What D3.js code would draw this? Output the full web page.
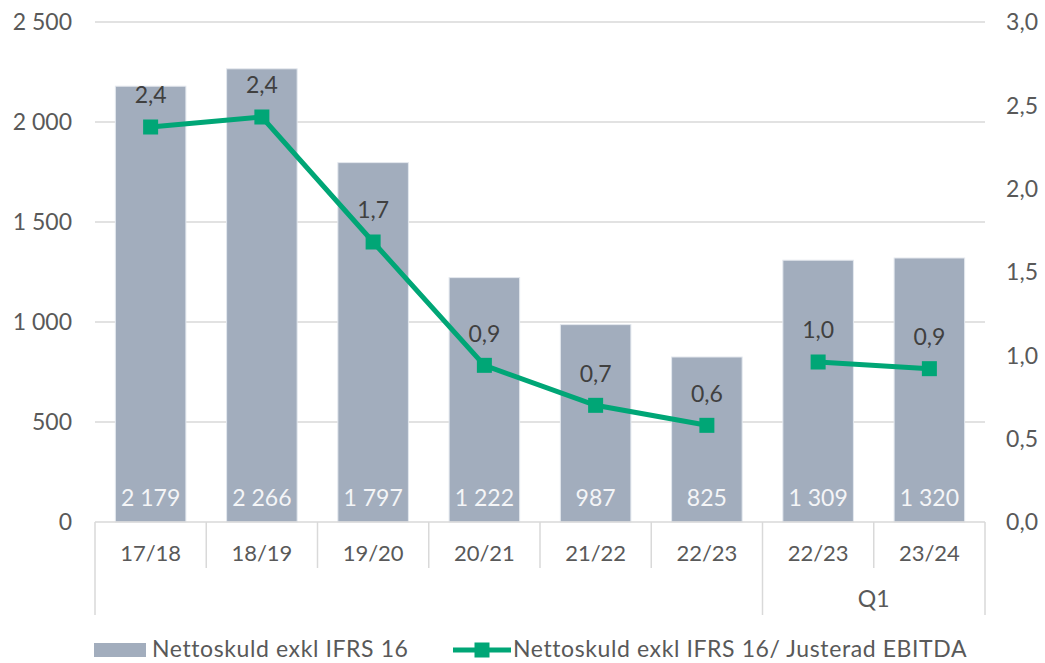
<!DOCTYPE html>
<html>
<head>
<meta charset="utf-8">
<script src="https://cdn.jsdelivr.net/npm/d3@7"></script>
<style>
  body { margin: 0; background: #fff; }
  text { font-family: "Lato", "DejaVu Sans", sans-serif; }
</style>
</head>
<body>
<svg width="1045" height="663"></svg>
<script>
// chart data
const categories = ["17/18", "18/19", "19/20", "20/21", "21/22", "22/23", "22/23", "23/24"];
const debt = [2179, 2266, 1797, 1222, 987, 825, 1309, 1320];
const ratio = [2.37, 2.43, 1.68, 0.94, 0.70, 0.58, 0.96, 0.92];
const segments = [[0, 1, 2, 3, 4, 5], [6, 7]]; // line is broken before the Q1 group
const leftTicks = [0, 500, 1000, 1500, 2000, 2500];
const rightTicks = [0, 0.5, 1.0, 1.5, 2.0, 2.5, 3.0];
const groupLabel = "Q1";
const barName = "Nettoskuld exkl IFRS 16";
const lineName = "Nettoskuld exkl IFRS 16/ Justerad EBITDA";

const svg = d3.select("svg");
const plotLeft = 95, plotRight = 985, plotTop = 22, plotBottom = 522;
const green = "#00a676", barGrey = "#a2adbd", textGrey = "#595959";

const x = d3.scaleBand()
    .domain(d3.range(categories.length))
    .range([plotLeft, plotRight])
    .paddingInner(0.366)
    .paddingOuter(0.183);

const xStep = x.step();
const yL = d3.scaleLinear().domain([0, 2500]).range([plotBottom, plotTop]);
const yR = d3.scaleLinear().domain([0, 3]).range([plotBottom, plotTop]);

const fmtSpace = d => d3.format(",")(d).replace(/,/g, " ");
const fmtComma = d => d.toFixed(1).replace(".", ",");

// gridlines
svg.append("g")
    .selectAll("line")
    .data(leftTicks.filter(d => d > 0))
    .enter().append("line")
    .attr("x1", plotLeft).attr("x2", plotRight)
    .attr("y1", d => yL(d)).attr("y2", d => yL(d))
    .attr("stroke", "#d9d9d9").attr("stroke-width", 1.5);

// left axis labels
svg.append("g")
    .selectAll("text")
    .data(leftTicks)
    .enter().append("text")
    .attr("x", 72)
    .attr("y", d => yL(d))
    .attr("dy", "0.36em")
    .attr("text-anchor", "end")
    .attr("font-size", 23)
    .attr("fill", textGrey)
    .text(fmtSpace);

// right axis labels
svg.append("g")
    .selectAll("text")
    .data(rightTicks)
    .enter().append("text")
    .attr("x", 1038)
    .attr("y", d => yR(d))
    .attr("dy", "0.36em")
    .attr("text-anchor", "end")
    .attr("font-size", 23)
    .attr("fill", textGrey)
    .text(fmtComma);

// bars
svg.append("g")
    .selectAll("rect")
    .data(debt)
    .enter().append("rect")
    .attr("x", (d, i) => x(i))
    .attr("y", d => yL(d))
    .attr("width", x.bandwidth())
    .attr("height", d => yL(0) - yL(d))
    .attr("fill", barGrey)
    .attr("stroke", "#e4e8ee")
    .attr("stroke-width", 1);

// bar value labels
svg.append("g")
    .selectAll("text")
    .data(debt)
    .enter().append("text")
    .attr("x", (d, i) => x(i) + x.bandwidth() / 2)
    .attr("y", 506)
    .attr("text-anchor", "middle")
    .attr("font-size", 23)
    .attr("fill", "#f4f5f7")
    .text(fmtSpace);

// category axis
const axis = svg.append("g").attr("stroke", "#d9d9d9").attr("stroke-width", 1.5);
axis.append("line")
    .attr("x1", plotLeft).attr("x2", plotRight)
    .attr("y1", plotBottom).attr("y2", plotBottom);
d3.range(categories.length + 1).forEach(i => {
    const xx = plotLeft + i * xStep;
    const long = (i === 0 || i === 6 || i === categories.length);
    axis.append("line")
        .attr("x1", xx).attr("x2", xx)
        .attr("y1", plotBottom).attr("y2", long ? 615 : 568);
});

svg.append("g")
    .selectAll("text")
    .data(categories)
    .enter().append("text")
    .attr("x", (d, i) => x(i) + x.bandwidth() / 2)
    .attr("y", 561)
    .attr("text-anchor", "middle")
    .attr("font-size", 22)
    .attr("fill", textGrey)
    .text(d => d);

svg.append("text")
    .attr("x", plotLeft + 7 * xStep)
    .attr("y", 607)
    .attr("text-anchor", "middle")
    .attr("font-size", 23)
    .attr("fill", textGrey)
    .text(groupLabel);

// ratio line
const line = d3.line()
    .x(i => x(i) + x.bandwidth() / 2)
    .y(i => yR(ratio[i]));

svg.append("g")
    .selectAll("path")
    .data(segments)
    .enter().append("path")
    .attr("d", line)
    .attr("fill", "none")
    .attr("stroke", green)
    .attr("stroke-width", 5);

svg.append("g")
    .selectAll("rect")
    .data(ratio)
    .enter().append("rect")
    .attr("x", (d, i) => x(i) + x.bandwidth() / 2 - 7.5)
    .attr("y", d => yR(d) - 7.5)
    .attr("width", 15).attr("height", 15)
    .attr("fill", green);

svg.append("g")
    .selectAll("text")
    .data(ratio)
    .enter().append("text")
    .attr("x", (d, i) => x(i) + x.bandwidth() / 2)
    .attr("y", d => yR(d) - 32)
    .attr("dy", "0.36em")
    .attr("text-anchor", "middle")
    .attr("font-size", 23)
    .attr("fill", "#404040")
    .text(fmtComma);

// legend
const legend = svg.append("g");
legend.append("rect")
    .attr("x", 94).attr("y", 643)
    .attr("width", 52).attr("height", 14)
    .attr("fill", barGrey);
legend.append("text")
    .attr("x", 152).attr("y", 657)
    .attr("font-size", 23)
    .attr("letter-spacing", 0.6)
    .attr("fill", textGrey)
    .text(barName);
legend.append("line")
    .attr("x1", 453).attr("x2", 511)
    .attr("y1", 650).attr("y2", 650)
    .attr("stroke", green).attr("stroke-width", 5);
legend.append("rect")
    .attr("x", 474.5).attr("y", 642.5)
    .attr("width", 15).attr("height", 15)
    .attr("fill", green);
legend.append("text")
    .attr("x", 513).attr("y", 657)
    .attr("font-size", 23)
    .attr("letter-spacing", 0.6)
    .attr("fill", textGrey)
    .text(lineName);
</script>
</body>
</html>
